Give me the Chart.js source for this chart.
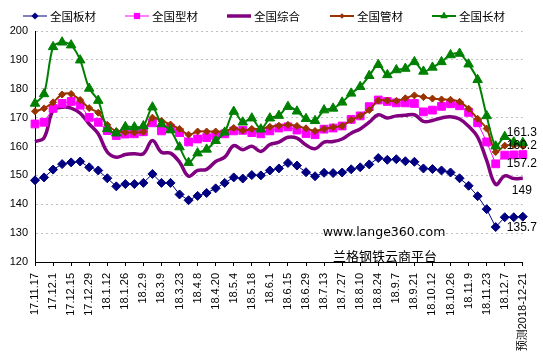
<!DOCTYPE html>
<html>
<head>
<meta charset="utf-8">
<script src="https://cdn.jsdelivr.net/npm/chart.js@4.4.0/dist/chart.umd.min.js"></script>
<style>
  html, body { margin: 0; padding: 0; background: #fff; }
  #wrap { width: 543px; height: 361px; position: relative; }
</style>
</head>
<body>
<div id="wrap"><canvas id="chart"></canvas></div>
<script>
// weekly dates, only every other one is printed on the axis
const dates = ['17.11.17','17.11.24','17.12.1','17.12.8','17.12.15','17.12.22','17.12.29','18.1.5','18.1.12','18.1.19',
  '18.1.26','18.2.2','18.2.9','18.3.2','18.3.9','18.3.16','18.3.23','18.3.30','18.4.8','18.4.13',
  '18.4.20','18.4.27','18.5.4','18.5.11','18.5.18','18.5.25','18.6.1','18.6.8','18.6.15','18.6.22',
  '18.6.29','18.7.6','18.7.13','18.7.20','18.7.27','18.8.3','18.8.10','18.8.17','18.8.24','18.8.31',
  '18.9.7','18.9.14','18.9.21','18.9.28','18.10.12','18.10.19','18.10.26','18.11.2','18.11.9','18.11.16',
  '18.11.23','18.11.30','18.12.7','18.12.14','预测2018-12-21'];

const seriesNames = ['全国板材', '全国型材', '全国综合', '全国管材', '全国长材'];

const plate = [148.3,149.3,152.0,153.9,154.5,154.8,152.8,151.7,149.0,146.2,
  147.0,147.0,147.4,150.5,147.4,147.4,143.4,141.4,142.9,143.9,
  145.5,147.4,149.3,148.9,150.1,150.0,151.7,152.4,154.3,153.4,
  151.1,149.7,150.9,150.8,151.0,152.1,152.8,153.8,156.0,155.4,
  155.6,154.9,154.7,152.4,152.2,151.7,151.0,149.0,146.4,142.8,
  138.3,132.1,135.5,135.5,135.7];

const section = [167.8,168.4,173.2,174.9,175.6,174.3,170.1,168.4,165.5,163.8,
  164.3,164.4,165.1,168.2,165.4,166.3,164.8,161.6,162.6,163.1,
  163.8,164.4,165.4,165.6,164.8,164.4,165.4,166.4,166.8,165.7,
  164.5,164.1,166.0,166.4,167.1,169.4,170.6,173.8,176.1,175.6,
  175.1,175.1,174.9,172.0,172.6,173.9,174.8,174.1,171.8,168.2,
  161.6,154.0,157.0,157.1,157.2];

const composite = [161.7,163.0,172.5,173.6,173.3,171.5,167.8,164.4,158.1,156.3,
  157.2,157.5,157.5,162.1,158.0,157.7,154.6,149.7,151.7,152.1,
  154.8,156.3,160.3,158.9,160.1,158.3,160.7,161.5,163.2,162.9,
  160.5,159.2,161.5,161.7,162.6,164.6,166.1,168.4,171.0,169.9,
  170.6,170.8,171.0,168.7,169.0,169.9,170.3,169.5,167.0,163.3,
  155.2,146.9,149.8,148.9,149];

const pipe = [172.2,173.2,175.3,178.0,178.2,176.1,173.3,171.7,167.5,165.3,
  164.9,164.9,165.1,170.0,168.9,167.6,166.1,164.1,165.2,165.2,
  165.2,165.2,166.4,165.5,166.1,166.1,166.8,167.2,167.5,167.1,
  166.3,165.4,166.1,166.7,167.1,169.2,170.6,172.6,175.9,175.9,
  175.8,176.7,177.7,177.1,176.6,176.3,176.2,175.5,173.1,169.6,
  166.2,158.1,160.3,160.5,160.2];

const longSteel = [174.9,178.2,194.5,196.1,195.1,189.9,180.1,175.9,166.1,164.6,
  166.8,166.7,167.1,173.6,167.8,165.7,159.8,154.4,157.7,159.0,
  162.0,164.9,172.1,168.4,169.8,166.0,169.8,170.7,173.8,172.2,
  169.6,168.9,172.6,173.2,175.3,178.4,180.7,184.5,188.3,184.8,
  186.5,187.0,189.3,186.0,187.4,189.3,191.7,192.2,188.5,183.1,
  170.6,160.1,163.4,161.5,161.3];

const yMin = 120, yMax = 200, yStep = 10;
const watermark = ['www.lange360.com', '兰格钢铁云商平台'];

// vertical offset of each end-value label from its last point
const endLabelDy = [11, 9, 12, 0, -10];

function drawMarker(ctx, style, x, y, r) {
  ctx.beginPath();
  if (style === 'rectRot') {
    ctx.moveTo(x, y - r); ctx.lineTo(x + r, y); ctx.lineTo(x, y + r); ctx.lineTo(x - r, y);
  } else if (style === 'rect') {
    const s = r * Math.SQRT1_2;
    ctx.rect(x - s, y - s, 2 * s, 2 * s);
  } else if (style === 'triangle') {
    ctx.moveTo(x, y - r);
    ctx.lineTo(x + r * 0.866, y + r * 0.5);
    ctx.lineTo(x - r * 0.866, y + r * 0.5);
  }
  ctx.closePath();
  ctx.fill();
}

const lineLegend = {
  id: 'lineLegend',
  afterDraw(chart) {
    const ctx = chart.ctx;
    const starts = [23, 125, 227, 330, 432];
    const y = 16;
    ctx.save();
    chart.data.datasets.forEach((ds, i) => {
      const x = starts[i];
      ctx.strokeStyle = ds.borderColor;
      ctx.fillStyle = ds.borderColor;
      ctx.lineWidth = ds.borderWidth;
      ctx.beginPath();
      ctx.moveTo(x, y); ctx.lineTo(x + 24, y);
      ctx.stroke();
      if (ds.pointRadius) drawMarker(ctx, ds.pointStyle, x + 12, y, ds.pointRadius * 0.8);
      ctx.fillStyle = '#000';
      ctx.font = '11.5px "Noto Sans CJK SC"';
      ctx.textAlign = 'left';
      ctx.textBaseline = 'middle';
      ctx.fillText(ds.label, x + 27, y + 1);
    });
    ctx.restore();
  }
};

const endLabels = {
  id: 'endLabels',
  afterDatasetsDraw(chart) {
    const ctx = chart.ctx;
    ctx.save();
    ctx.font = '12px "Liberation Sans"';
    ctx.fillStyle = '#000';
    ctx.textAlign = 'center';
    ctx.textBaseline = 'middle';
    chart.data.datasets.forEach((ds, i) => {
      const last = ds.data.length - 1;
      const pt = chart.getDatasetMeta(i).data[last];
      ctx.fillText(String(ds.data[last]), pt.x - 1, pt.y + endLabelDy[i]);
    });
    // site name text inside the plot
    ctx.font = '12.5px "DejaVu Sans"';
    ctx.fillText(watermark[0], 384, 233);
    ctx.font = '13px "Noto Sans CJK SC"';
    ctx.fillText(watermark[1], 385, 256);
    ctx.restore();
  }
};

new Chart(document.getElementById('chart'), {
  type: 'line',
  data: {
    labels: dates,
    datasets: [
      { label: seriesNames[0], data: plate, borderColor: '#000080', backgroundColor: '#000080',
        borderWidth: 1, pointStyle: 'rectRot', pointRadius: 4.5, pointBorderWidth: 1, tension: 0, order: 4 },
      { label: seriesNames[1], data: section, borderColor: '#FF00FF', backgroundColor: '#FF00FF',
        borderWidth: 1, pointStyle: 'rect', pointRadius: 5.5, pointBorderWidth: 1, tension: 0, order: 3 },
      { label: seriesNames[2], data: composite, borderColor: '#800080', backgroundColor: '#800080',
        borderWidth: 3.5, pointRadius: 0, tension: 0.4, order: 5 },
      { label: seriesNames[3], data: pipe, borderColor: '#993300', backgroundColor: '#993300',
        borderWidth: 2, pointStyle: 'rectRot', pointRadius: 3.5, pointBorderWidth: 1, tension: 0.3, order: 1 },
      { label: seriesNames[4], data: longSteel, borderColor: '#008000', backgroundColor: '#008000',
        borderWidth: 2, pointStyle: 'triangle', pointRadius: 5.5, pointBorderWidth: 1, tension: 0.3, order: 0 }
    ]
  },
  options: {
    responsive: true,
    maintainAspectRatio: false,
    animation: false,
    layout: { padding: { top: 31, right: 19, bottom: 0, left: 0 } },
    plugins: { legend: { display: false }, tooltip: { enabled: false } },
    scales: {
      x: {
        offset: false,
        afterFit: s => { s.height = 99; },
        grid: {
          drawOnChartArea: false, drawTicks: true, tickLength: 4,
          color: c => (c.index % 2 === 0 ? '#000' : 'rgba(0,0,0,0)')
        },
        border: { color: '#000', width: 1 },
        ticks: {
          autoSkip: false, maxRotation: 90, minRotation: 90, padding: 7,
          color: '#000', font: { family: '"Liberation Sans", "Noto Sans CJK SC"', size: 11 },
          callback: function (v, i) { return i % 2 === 0 ? this.getLabelForValue(v) : ''; }
        }
      },
      y: {
        min: yMin, max: yMax,
        afterFit: s => { s.width = 35; },
        grid: { color: '#C0C0C0', lineWidth: 1, drawTicks: false },
        border: { color: '#000', width: 1, dash: [2, 3] },
        ticks: {
          stepSize: yStep, padding: 7, color: '#000',
          font: { family: '"Liberation Sans"', size: 11 }
        }
      }
    }
  },
  plugins: [lineLegend, endLabels]
});
</script>
</body>
</html>
